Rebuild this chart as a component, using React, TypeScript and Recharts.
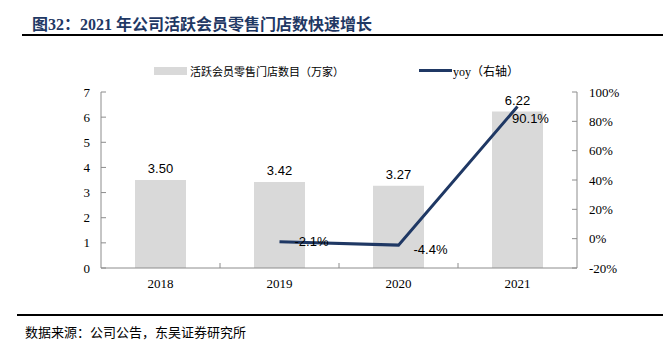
import {
  ComposedChart,
  Bar,
  Line,
  XAxis,
  YAxis,
  LabelList,
} from "recharts";

const years = ["2018", "2019", "2020", "2021"];
const stores = [3.5, 3.42, 3.27, 6.22];
const yoy: (number | null)[] = [null, -2.1, -4.4, 90.1];
const leftTicks = [0, 1, 2, 3, 4, 5, 6, 7];
const rightTicks = [-20, 0, 20, 40, 60, 80, 100];

const data = years.map((year, i) => ({ year, stores: stores[i], yoy: yoy[i] }));

const W = 663;
const H = 352;
const M = { top: 92, right: 36, bottom: 54, left: 61 };
const LEFT_W = 40;
const RIGHT_W = 50;
const X_H = 30;
const plotW = W - M.left - M.right - LEFT_W - RIGHT_W;
const band = plotW / years.length;

const NAVY = "#1F3864";
const GRAY = "#D9D9D9";
const AXIS = "#8C8C8C";
const SERIF = '"Liberation Serif", "Times New Roman", serif';
const SANS = '"Liberation Sans", Arial, sans-serif';
const CJK = '"Noto Sans CJK SC", sans-serif';

function YearTick(props: any) {
  const { x, y, payload, index } = props;
  const axisY = y - 10;
  return (
    <g>
      {index < years.length - 1 && (
        <line
          x1={x + band / 2}
          x2={x + band / 2}
          y1={axisY - 5}
          y2={axisY}
          stroke={AXIS}
        />
      )}
      <text
        x={x}
        y={y + 10}
        textAnchor="middle"
        fontFamily={SERIF}
        fontSize={13}
        fill="#000"
      >
        {payload.value}
      </text>
    </g>
  );
}

// label offsets per point, roughly where the source puts them
const yoyOffsets: Record<number, [number, number]> = {
  1: [32, 0],
  2: [32, 4],
  3: [13, 12],
};

function YoyLabel(props: any) {
  const { x, y, value, index } = props;
  if (value == null) return null;
  const [dx, dy] = yoyOffsets[index] ?? [0, -10];
  return (
    <text
      x={x + dx}
      y={y + dy}
      textAnchor="middle"
      dominantBaseline="central"
      fontFamily={SANS}
      fontSize={13}
      fill="#000"
    >
      {`${value.toFixed(1)}%`}
    </text>
  );
}

export default function App() {
  return (
    <div
      style={{
        position: "absolute",
        left: 0,
        top: 0,
        width: W,
        height: H,
        background: "#fff",
        overflow: "hidden",
      }}
    >
      <div
        style={{
          position: "absolute",
          left: 32,
          top: 11,
          fontFamily: `${SERIF.split(",")[0]}, ${CJK}`,
          fontWeight: "bold",
          fontSize: 16,
          color: NAVY,
          whiteSpace: "nowrap",
        }}
      >
        图32：2021 年公司活跃会员零售门店数快速增长
      </div>
      <div
        style={{
          position: "absolute",
          left: 22,
          right: 0,
          top: 34,
          height: 2,
          background: "#000",
        }}
      />

      {/* legend */}
      <div
        style={{
          position: "absolute",
          left: 154,
          top: 67,
          width: 33,
          height: 8,
          background: GRAY,
        }}
      />
      <div
        style={{
          position: "absolute",
          left: 190,
          top: 63,
          fontFamily: CJK,
          fontSize: 11,
          color: "#000",
          whiteSpace: "nowrap",
        }}
      >
        活跃会员零售门店数目（万家）
      </div>
      <div
        style={{
          position: "absolute",
          left: 419,
          top: 69,
          width: 33,
          height: 3,
          background: NAVY,
        }}
      />
      <div
        style={{
          position: "absolute",
          left: 453,
          top: 62,
          fontFamily: `${SERIF.split(",")[0]}, ${CJK}`,
          fontSize: 12,
          color: "#000",
          whiteSpace: "nowrap",
        }}
      >
        yoy（右轴）
      </div>

      <div style={{ position: "absolute", left: 0, top: 0 }}>
        <ComposedChart width={W} height={H} data={data} margin={M}>
          <XAxis
            dataKey="year"
            height={X_H}
            axisLine={{ stroke: AXIS }}
            tickLine={false}
            tickSize={0}
            tickMargin={10}
            tick={<YearTick />}
            interval={0}
          />
          <YAxis
            yAxisId="left"
            width={LEFT_W}
            domain={[0, 7]}
            ticks={leftTicks}
            interval={0}
            axisLine={{ stroke: AXIS }}
            tickLine={{ stroke: AXIS }}
            tickSize={-5}
            tickMargin={16}
            tick={{ fontFamily: SERIF, fontSize: 13, fill: "#000" }}
          />
          <YAxis
            yAxisId="right"
            orientation="right"
            width={RIGHT_W}
            domain={[-20, 100]}
            ticks={rightTicks}
            interval={0}
            axisLine={{ stroke: AXIS }}
            tickLine={{ stroke: AXIS }}
            tickSize={-5}
            tickMargin={17}
            tickFormatter={(v: number) => `${v}%`}
            tick={{ fontFamily: SERIF, fontSize: 13, fill: "#000" }}
          />
          <Bar
            yAxisId="left"
            dataKey="stores"
            fill={GRAY}
            barSize={51}
            isAnimationActive={false}
          >
            <LabelList
              dataKey="stores"
              position="top"
              offset={7}
              formatter={(v: any) => Number(v).toFixed(2)}
              style={{ fontFamily: SANS, fontSize: 13, fill: "#000" }}
            />
          </Bar>
          <Line
            yAxisId="right"
            dataKey="yoy"
            stroke={NAVY}
            strokeWidth={3}
            dot={false}
            activeDot={false}
            isAnimationActive={false}
          >
            <LabelList dataKey="yoy" content={<YoyLabel />} />
          </Line>
        </ComposedChart>
      </div>

      <div
        style={{
          position: "absolute",
          left: 17,
          right: 0,
          top: 314,
          height: 2,
          background: "#000",
        }}
      />
      <div
        style={{
          position: "absolute",
          left: 25,
          top: 322,
          fontFamily: CJK,
          fontSize: 13,
          color: "#000",
          whiteSpace: "nowrap",
        }}
      >
        数据来源：公司公告，东吴证券研究所
      </div>
    </div>
  );
}
